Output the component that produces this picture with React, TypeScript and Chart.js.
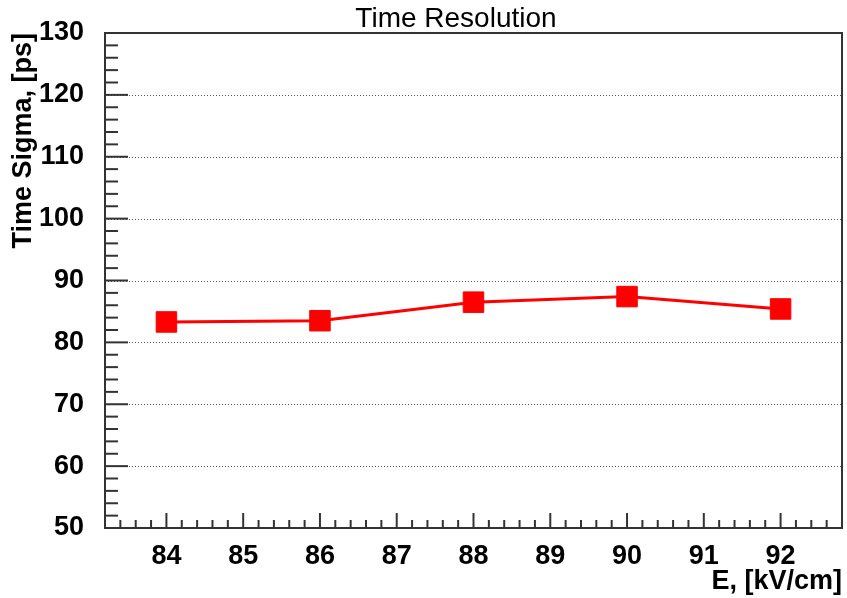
import React, { useEffect, useRef } from "react";
import { Chart, registerables } from "chart.js";

Chart.register(...registerables);

const E_VALUES = [84, 86, 88, 90, 92];
const SIGMA_PS = [83.3, 83.5, 86.5, 87.4, 85.4];
const X_TICKS = [84, 85, 86, 87, 88, 89, 90, 91, 92];
const Y_TICKS = [50, 60, 70, 80, 90, 100, 110, 120, 130];
const X_RANGE = [83.2, 92.8];
const Y_RANGE = [50, 130];
const X_MINOR_STEP = 0.2;
const Y_MINOR_STEP = 2;
const TITLE = "Time Resolution";
const X_TITLE = "E, [kV/cm]";
const Y_TITLE = "Time Sigma, [ps]";

const FONT = "'Liberation Sans', Arial, Helvetica, sans-serif";
const FRAME = "#333";

const rootPlugin = {
  id: "rootStyle",
  beforeDatasetsDraw(chart: any) {
    const { ctx, chartArea: a, scales } = chart;
    const y = scales.y;
    ctx.save();
    ctx.strokeStyle = "#555";
    ctx.lineWidth = 1;
    ctx.setLineDash([1, 2]);
    Y_TICKS.forEach((v) => {
      const py = Math.round(y.getPixelForValue(v)) + 0.5;
      ctx.beginPath();
      ctx.moveTo(a.left, py);
      ctx.lineTo(a.right, py);
      ctx.stroke();
    });
    ctx.restore();
  },
  afterDatasetsDraw(chart: any) {
    const { ctx, chartArea: a, scales } = chart;
    const x = scales.x;
    const y = scales.y;
    ctx.save();
    ctx.strokeStyle = FRAME;
    ctx.lineWidth = 2;
    const nY = Math.round((Y_RANGE[1] - Y_RANGE[0]) / Y_MINOR_STEP);
    for (let i = 0; i <= nY; i++) {
      const v = Y_RANGE[0] + i * Y_MINOR_STEP;
      const major = Y_TICKS.some((t) => Math.abs(t - v) < 1e-6);
      const py = y.getPixelForValue(v);
      ctx.beginPath();
      ctx.moveTo(a.left, py);
      ctx.lineTo(a.left + (major ? 23 : 13), py);
      ctx.stroke();
    }
    const nX = Math.round((X_RANGE[1] - X_RANGE[0]) / X_MINOR_STEP);
    for (let i = 0; i <= nX; i++) {
      const v = X_RANGE[0] + i * X_MINOR_STEP;
      const major = X_TICKS.some((t) => Math.abs(t - v) < 1e-6);
      const px = x.getPixelForValue(v);
      ctx.beginPath();
      ctx.moveTo(px, a.bottom);
      ctx.lineTo(px, a.bottom - (major ? 15 : 8));
      ctx.stroke();
    }
    ctx.strokeRect(a.left, a.top, a.right - a.left, a.bottom - a.top);
    ctx.fillStyle = "#000";
    ctx.font = `28px ${FONT}`;
    ctx.textAlign = "center";
    ctx.textBaseline = "alphabetic";
    ctx.fillText(TITLE, 456, 27);
    ctx.restore();
  },
};

const noPad = (s: any) => {
  s.paddingLeft = 0;
  s.paddingRight = 0;
  s.paddingTop = 0;
  s.paddingBottom = 0;
};

export default function App() {
  const ref = useRef<HTMLCanvasElement>(null);
  useEffect(() => {
    if (!ref.current) return;
    const chart = new Chart(ref.current, {
      type: "line",
      data: {
        datasets: [
          {
            data: E_VALUES.map((e, i) => ({ x: e, y: SIGMA_PS[i] })),
            borderColor: "#ff0000",
            backgroundColor: "#ff0000",
            borderWidth: 3,
            tension: 0,
            pointStyle: "rect",
            pointRadius: 14.5,
            pointBorderWidth: 1,
            pointBorderColor: "#ff0000",
            pointBackgroundColor: "#ff0000",
          },
        ],
      },
      options: {
        animation: false,
        responsive: false,
        events: [],
        layout: { autoPadding: false, padding: { top: 33, right: 5, left: 0, bottom: 0 } },
        plugins: {
          legend: { display: false },
          title: { display: false },
          tooltip: { enabled: false },
        },
        scales: {
          x: {
            type: "linear",
            min: X_RANGE[0],
            max: X_RANGE[1],
            afterBuildTicks: (s: any) => {
              s.ticks = X_TICKS.map((v) => ({ value: v }));
            },
            afterFit: (s: any) => {
              s.height = 70;
              noPad(s);
            },
            grid: { display: false, drawTicks: false },
            border: { display: false },
            ticks: {
              padding: 12,
              color: "#000",
              font: { family: FONT, size: 27, weight: "bold" },
              maxRotation: 0,
              autoSkip: false,
              callback: (v: any) => String(v),
            },
            title: {
              display: true,
              text: X_TITLE,
              align: "end",
              color: "#000",
              font: { family: FONT, size: 27, weight: "bold" },
              padding: { top: 0, bottom: 0 },
            },
          },
          y: {
            type: "linear",
            min: Y_RANGE[0],
            max: Y_RANGE[1],
            afterBuildTicks: (s: any) => {
              s.ticks = Y_TICKS.map((v) => ({ value: v }));
            },
            afterFit: (s: any) => {
              s.width = 105;
              noPad(s);
            },
            grid: { display: false, drawTicks: false },
            border: { display: false },
            ticks: {
              padding: 21,
              color: "#000",
              font: { family: FONT, size: 27, weight: "bold" },
              autoSkip: false,
              callback: (v: any) => String(v),
            },
            title: {
              display: true,
              text: Y_TITLE,
              align: "end",
              color: "#000",
              font: { family: FONT, size: 27, weight: "bold" },
              padding: { top: 7, bottom: 0 },
            },
          },
        },
      },
      plugins: [rootPlugin],
    });
    return () => chart.destroy();
  }, []);
  return (
    <div style={{ position: "absolute", left: 0, top: 0, width: 847, height: 598, background: "#fff" }}>
      <canvas ref={ref} width={847} height={598} style={{ display: "block" }} />
    </div>
  );
}
